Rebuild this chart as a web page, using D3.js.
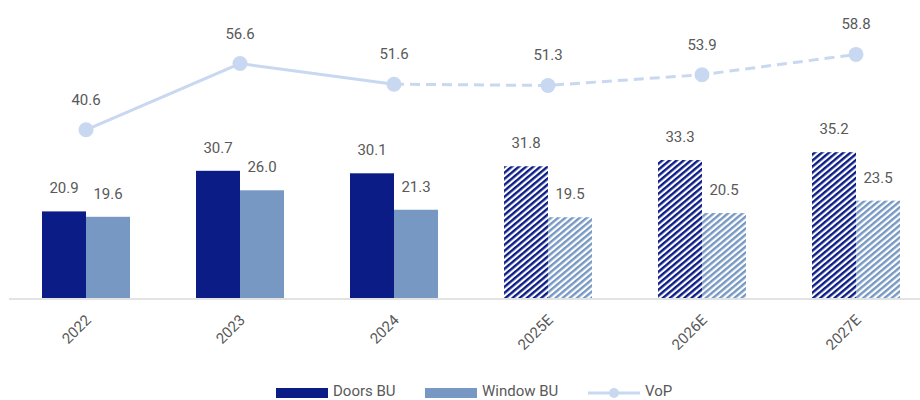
<!DOCTYPE html>
<html><head><meta charset="utf-8">
<script src="https://cdn.jsdelivr.net/npm/d3@7"></script>
<style>body{margin:0;background:#fff;}svg{display:block;font-family:Roboto,"Noto Sans",sans-serif;}</style>
</head><body><svg id="c" width="920" height="400"></svg>
<script>
const categories = ["2022","2023","2024","2025E","2026E","2027E"];
const forecast = [false,false,false,true,true,true];
const doorsBU = [20.9,30.7,30.1,31.8,33.3,35.2];
const windowBU = [19.6,26.0,21.3,19.5,20.5,23.5];
const vop = [40.6,56.6,51.6,51.3,53.9,58.8];
const seriesNames = ["Doors BU","Window BU","VoP"];

const colDoors = "#0c1c87", colWin = "#7698c3", colVop = "#c9d8f1", txt = "#595959";
const svg = d3.select("#c");
const defs = svg.append("defs");
function hatch(id, color){
  const p = defs.append("pattern").attr("id", id).attr("patternUnits","userSpaceOnUse")
    .attr("width", 4.6).attr("height", 10).attr("patternTransform","rotate(50)");
  p.append("rect").attr("width",4.6).attr("height",10).attr("fill","#fff");
  p.append("rect").attr("x",0).attr("y",0).attr("width",2.4).attr("height",10).attr("fill",color);
}
hatch("hD", colDoors); hatch("hW", colWin);

const x = d3.scaleBand().domain(categories).range([9, 933]).paddingInner(0).paddingOuter(0);
const xs = d3.scaleBand().domain([0,1]).range([0, 88]);
const y = d3.scaleLinear().domain([0, 70]).range([298, 8]);
const cx = c => x(c) + x.bandwidth()/2;

// axis line
svg.append("line").attr("x1", 9).attr("x2", 920).attr("y1", 299).attr("y2", 299)
  .attr("stroke", "#e3e3e3").attr("stroke-width", 2);

const g = svg.append("g");
const series = [doorsBU, windowBU];
series.forEach((vals, si) => {
  g.selectAll(null).data(categories).enter().append("rect")
    .attr("x", c => cx(c) - 44 + xs(si))
    .attr("y", (c,i) => y(vals[i]))
    .attr("width", xs.bandwidth())
    .attr("height", (c,i) => y(0) - y(vals[i]))
    .attr("fill", (c,i) => forecast[i] ? (si===0 ? "url(#hD)" : "url(#hW)") : (si===0 ? colDoors : colWin));
  g.selectAll(null).data(categories).enter().append("text")
    .attr("x", c => cx(c) - 44 + xs(si) + xs.bandwidth()/2)
    .attr("y", (c,i) => y(vals[i]) - 18)
    .attr("text-anchor","middle").attr("font-size", 15).attr("fill", txt)
    .text((c,i) => vals[i].toFixed(1));
});

// VoP line
const pts = categories.map((c,i) => [cx(c), y(vop[i])]);
const line = d3.line();
svg.append("path").attr("d", line(pts.slice(0,3))).attr("fill","none")
  .attr("stroke", colVop).attr("stroke-width", 3);
svg.append("path").attr("d", line(pts.slice(2))).attr("fill","none")
  .attr("stroke", colVop).attr("stroke-width", 3).attr("stroke-dasharray","10,6");
svg.selectAll(null).data(pts).enter().append("circle")
  .attr("cx", d => d[0]).attr("cy", d => d[1]).attr("r", 7.5).attr("fill", colVop);
svg.selectAll(null).data(categories).enter().append("text")
  .attr("x", c => cx(c)).attr("y", (c,i) => y(vop[i]) - 25)
  .attr("text-anchor","middle").attr("font-size", 15).attr("fill", txt)
  .text((c,i) => vop[i].toFixed(1));

// x labels
svg.selectAll(null).data(categories).enter().append("text")
  .attr("transform", c => `translate(${cx(c)+6},${321}) rotate(-45)`)
  .attr("text-anchor","end").attr("font-size", 15).attr("fill", txt)
  .text(c => c);

// legend
const leg = svg.append("g");
const lx = [276, 425, 588];
leg.append("rect").attr("x", lx[0]).attr("y", 388).attr("width", 52).attr("height", 10).attr("fill", colDoors);
leg.append("rect").attr("x", lx[1]).attr("y", 388).attr("width", 52).attr("height", 10).attr("fill", colWin);
leg.append("line").attr("x1", lx[2]).attr("x2", lx[2]+52).attr("y1", 393).attr("y2", 393).attr("stroke", colVop).attr("stroke-width", 3);
leg.append("circle").attr("cx", lx[2]+26).attr("cy", 393).attr("r", 5).attr("fill", colVop);
seriesNames.forEach((n,i) => {
  leg.append("text").attr("x", lx[i] + 57).attr("y", 396).attr("font-size", 15).attr("fill", txt).text(n);
});
</script></body></html>
